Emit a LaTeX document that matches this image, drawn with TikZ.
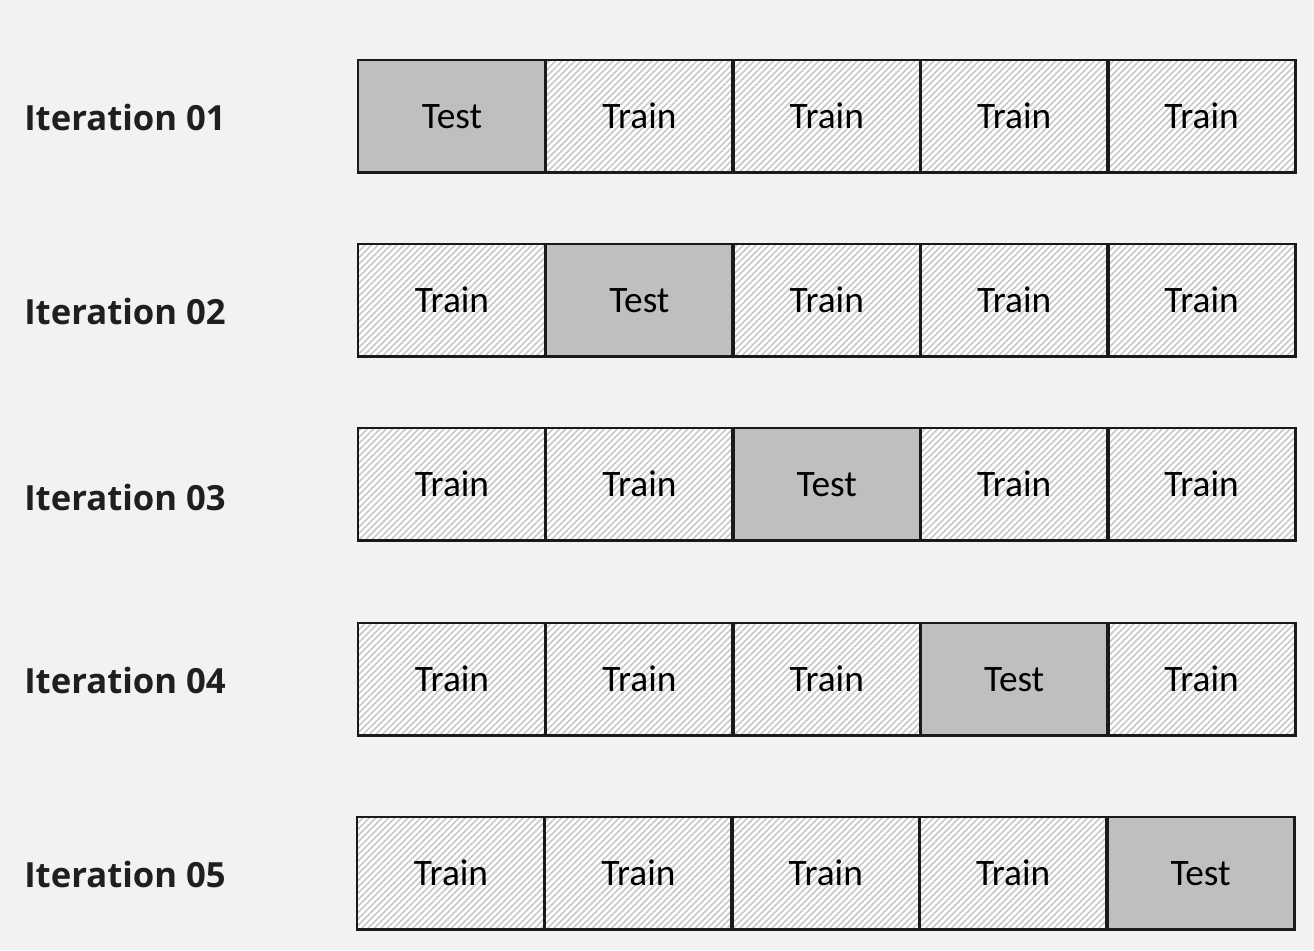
\documentclass[tikz,border=0pt]{standalone}
\usepackage{fontspec}
\setmainfont{Carlito}
\newfontfamily\labfont{Open Sans}
\usetikzlibrary{patterns.meta}
\definecolor{bg}{HTML}{F2F2F2}
\definecolor{testgray}{HTML}{BFBFBF}
\definecolor{hatch}{HTML}{C8C8C8}
\definecolor{edge}{HTML}{1A1A1A}
\tikzset{
  hatchfill/.style={pattern={Lines[angle=45,distance=3.4pt,line width=1.2pt]}, pattern color=hatch},
  cell/.style={minimum width=187.4*0.75pt, minimum height=112*0.75pt,
    inner sep=0pt, anchor=north west, font=\fontsize{28}{32}\selectfont},
  traincell/.style={cell, preaction={fill=white}, hatchfill},
  testcell/.style={cell, fill=testgray},
  cellborder/.style={draw=edge, line width=2.2pt},
  itlabel/.style={anchor=west, inner sep=0pt, font=\labfont\bfseries\fontsize{26}{30}\selectfont, text=black!88}
}
\begin{document}
\begin{tikzpicture}[x=0.75pt,y=-0.75pt]
\fill[bg] (0,0) rectangle (1314,950);
\useasboundingbox (0,0) rectangle (1314,950);
\path[hatchfill] (5,5) rectangle (5.01,5.01);
\foreach \r/\top/\ly/\xs in {1/60/117/358, 2/244/311/358, 3/428/497/358, 4/623/680/358, 5/817/874/357}{
  \node[itlabel] (lab-\r) at (24,\ly) {Iteration 0\r};
  \foreach \c in {1,...,5}{
    \pgfmathsetmacro{\xx}{\xs+(\c-1)*187.4}
    \ifnum\c=\r
      \node[testcell] (c-\r-\c) at (\xx,\top) {Test};
    \else
      \node[traincell] (c-\r-\c) at (\xx,\top) {Train};
    \fi
  }
}
\foreach \r in {1,...,5}{
  \foreach \c in {1,...,5}{
    \draw[cellborder] (c-\r-\c.north west) rectangle (c-\r-\c.south east);
  }
}
\end{tikzpicture}
\end{document}
